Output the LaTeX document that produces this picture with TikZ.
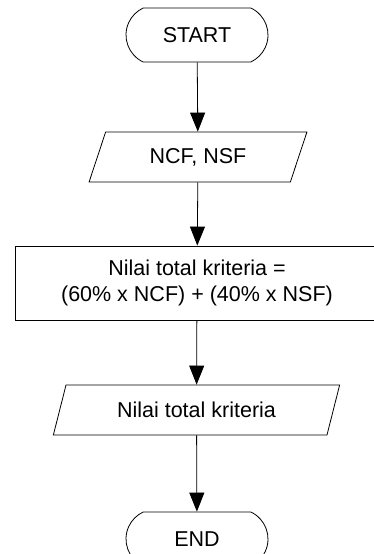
\documentclass[tikz,border=0pt]{standalone}
\usepackage{fontspec}
\setmainfont{Liberation Sans}
\usetikzlibrary{arrows.meta,shapes.misc,shapes.geometric}
\tikzset{terminal/.style={draw,rounded rectangle,rounded rectangle arc length=130,
  minimum width=142pt,minimum height=54pt,inner sep=0pt},
 io/.style={draw,trapezium,trapezium left angle=64,trapezium right angle=116,
  trapezium stretches=true,minimum height=50pt,inner sep=0pt},
 process/.style={draw,rectangle,minimum width=364pt,minimum height=74pt,align=center},
 flow/.style={-{Triangle[length=19pt,width=15pt]}},
 every node/.style={font=\fontsize{21.5}{26}\selectfont}}

\begin{document}
\begin{tikzpicture}[x=1pt,y=-1pt,line width=.8pt]
\useasboundingbox (0,0) rectangle (374,554);
\node[terminal] (start) at (197,35) {START};
\node[io,minimum width=218pt] (input) at (198,157) {NCF, NSF};
\node[process] (hitung) at (197,283) {Nilai total kriteria =\\(60\% x NCF) + (40\% x NSF)};
\node[io,minimum width=287pt] (output) at (196.5,410) {Nilai total kriteria};
\node[terminal] (end) at (197,539) {END};
\draw[flow] (start) -- (input);
\draw[flow] (input) -- (hitung);
\draw[flow] (hitung) -- (output);
\draw[flow] (output) -- (end);
\end{tikzpicture}
\end{document}
